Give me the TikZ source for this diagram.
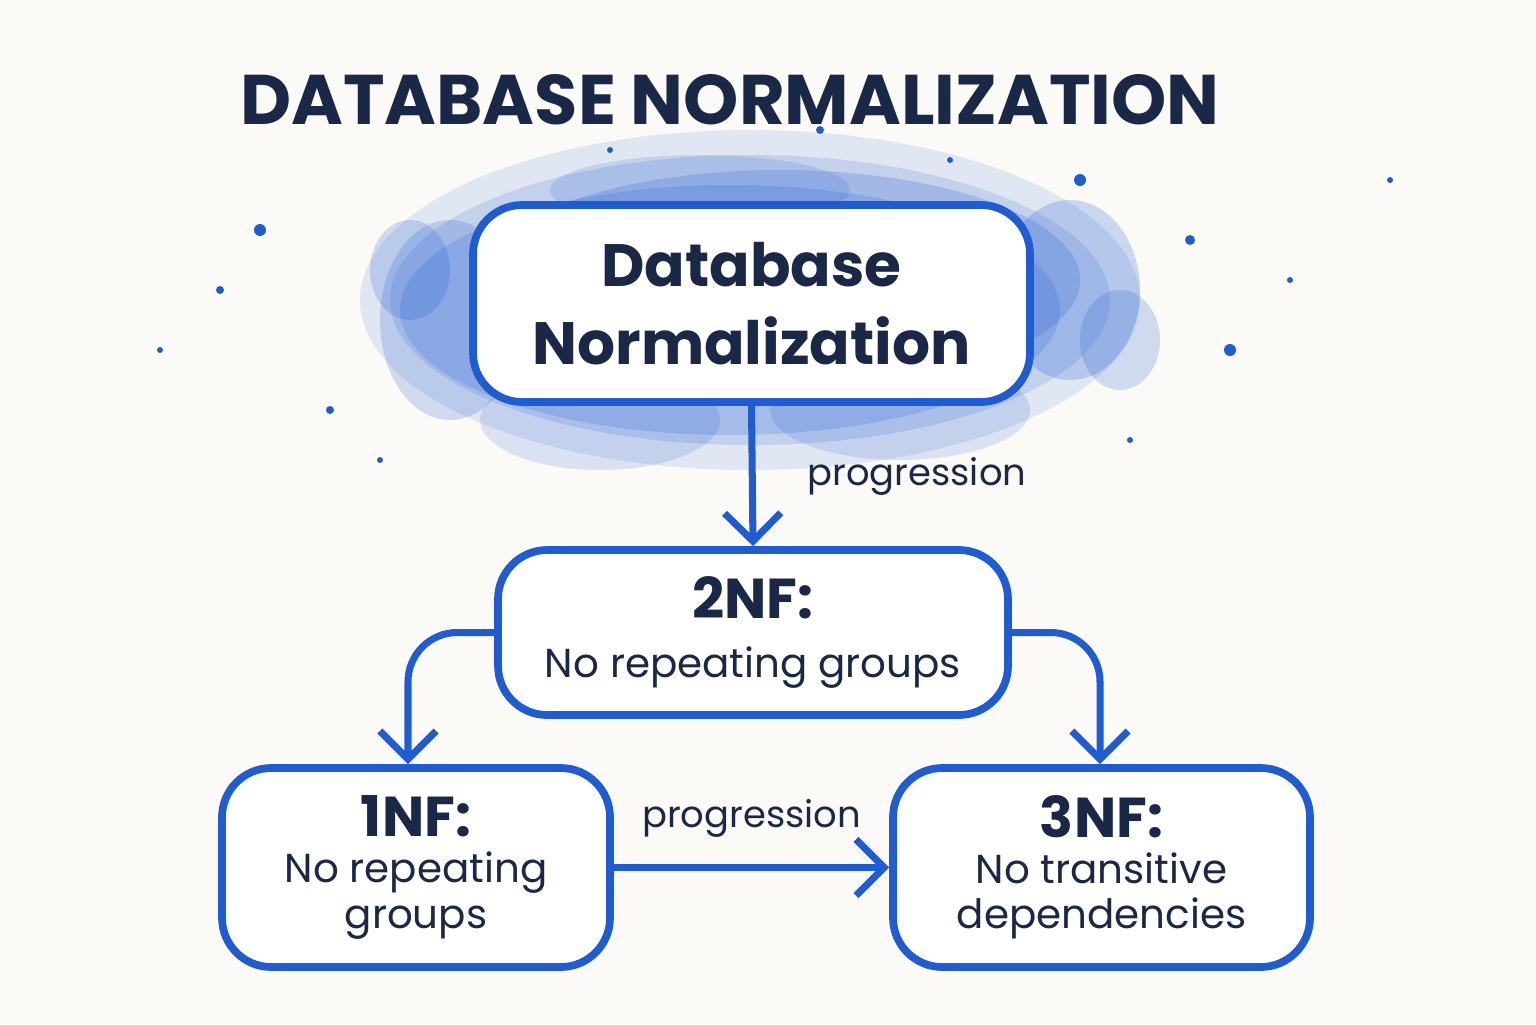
\documentclass[tikz,border=0pt]{standalone}
\usepackage{fontspec}
\setmainfont{Poppins}
\usetikzlibrary{arrows.meta,positioning}
\definecolor{inkblue}{HTML}{1F5CD2}
\definecolor{navy}{HTML}{1A2847}
\definecolor{paper}{HTML}{FBFAF7}
\tikzstyle{box}=[draw=inkblue, line width=2.2pt, rounded corners=14pt, fill=white, align=center, text=navy]
\tikzstyle{link}=[draw=inkblue, line width=2pt, rounded corners=14pt, -{Straight Barb[length=8pt,width=16pt,line width=2pt]}]
\newcommand{\splat}{\fill[inkblue]}
\begin{document}
\begin{tikzpicture}
            \fill[paper] (0,0) rectangle (15.36,-10.24);
            \useasboundingbox (0,0) rectangle (15.36,-10.24);
            % splash behind the top box
            \foreach \x/\y/\rx/\ry/\o in {7.5/-3.0/3.9/1.7/0.12, 7.5/-3.0/3.6/1.45/0.15, 7.3/-3.1/3.3/1.25/0.18, 7.8/-2.8/3.0/1.1/0.2, 4.5/-3.2/0.7/1.0/0.2, 4.1/-2.7/0.4/0.5/0.2, 10.7/-2.9/0.7/0.9/0.22, 11.2/-3.4/0.4/0.5/0.2, 6.0/-4.2/1.2/0.5/0.15, 9.0/-4.1/1.3/0.5/0.15, 7.0/-1.9/1.5/0.35/0.15}
                \fill[inkblue, opacity=\o] (\x,\y) ellipse ({\rx} and {\ry});
            \foreach \x/\y/\r in {2.6/-2.3/0.06, 2.2/-2.9/0.04, 1.6/-3.5/0.03, 3.3/-4.1/0.04, 12.3/-3.5/0.06, 11.9/-2.4/0.05, 10.8/-1.8/0.06, 12.9/-2.8/0.03, 13.9/-1.8/0.03, 6.1/-1.5/0.03, 8.2/-1.3/0.04, 3.8/-4.6/0.03, 11.3/-4.4/0.03, 9.5/-1.6/0.03}
                \splat (\x,\y) circle (\r);
            \node[text=navy, font=\bfseries\fontsize{20}{24}\selectfont] (title) at (7.3,-1.0) {DATABASE NORMALIZATION};
            \node[box, minimum width=5.57cm, minimum height=1.97cm, font=\fontsize{17}{22}\selectfont\bfseries] (db) at (7.515,-3.035) {Database\\Normalization};
            \node[box, minimum width=5.1cm, minimum height=1.65cm, font=\fontsize{11.5}{17}\selectfont] (nf2) at (7.53,-6.325) {\textbf{\fontsize{16}{19}\selectfont 2NF:}\\No repeating groups};
            \node[box, minimum width=3.88cm, minimum height=1.99cm, font=\fontsize{11.5}{13}\selectfont] (nf1) at (4.16,-8.675) {\textbf{\fontsize{16}{19}\selectfont 1NF:}\\No repeating\\groups};
            \node[box, minimum width=4.17cm, minimum height=1.99cm, font=\fontsize{11.5}{13}\selectfont] (nf3) at (11.015,-8.675) {\textbf{\fontsize{16}{19}\selectfont 3NF:}\\No transitive\\dependencies};

            \coordinate (l1) at (4.08,-6.32);
            \coordinate (r1) at (11.0,-6.32);
            \draw[link] (db.south) -- node[right=0.4cm, text=navy, font=\fontsize{10.5}{13}\selectfont]{progression} (nf2.north);
            \draw[link] (nf2.west) -| (nf1.north -| l1);
            \draw[link] (nf2.east) -| (nf3.north -| r1);
            \draw[link] (nf1.east) -- node[above=0.15cm, text=navy, font=\fontsize{10.5}{13}\selectfont]{progression} (nf3.west);
\end{tikzpicture}
\end{document}
